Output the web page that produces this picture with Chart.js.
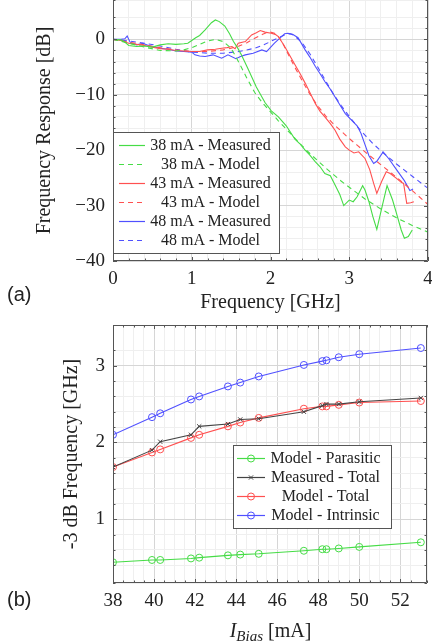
<!DOCTYPE html>
<html>
<head>
<meta charset="utf-8">
<script src="https://cdn.jsdelivr.net/npm/chart.js@4.4.0/dist/chart.umd.min.js"></script>
<style>
  body { margin: 0; background: #fff; }
  #wrap { position: relative; width: 432px; height: 642px; overflow: hidden; }
  canvas { position: absolute; left: 0; }
  #respChart { top: 0; }
  #bwChart { top: 320px; }
  .tag { position: absolute; left: 7px; font: 20px 'Liberation Sans', sans-serif; line-height: 20px; color: #222; }
  #xTitleB { position: absolute; left: 113px; width: 315px; top: 618px; text-align: center;
             font: 20px 'Liberation Serif', serif; line-height: 24px; color: #222; }
  #xTitleB sub { font-size: 15px; line-height: 0; vertical-align: -4px; }
</style>
</head>
<body>
<div id="wrap">
  <canvas id="respChart" width="432" height="320"></canvas>
  <canvas id="bwChart" width="432" height="322"></canvas>
  <div class="tag" style="top:284px">(a)</div>
  <div class="tag" style="top:589px">(b)</div>
  <div id="xTitleB"><i>I</i><sub><i>Bias</i></sub> [mA]</div>
</div>
<script>
// (a) frequency response [GHz] / [dB]
var freq38Meas = [0, 0.1, 0.15, 0.2, 0.3, 0.4, 0.5, 0.6, 0.7, 0.8, 0.9, 0.95, 1.0, 1.05, 1.1, 1.17, 1.25, 1.3, 1.35, 1.42, 1.48, 1.53, 1.58, 1.63, 1.72, 1.82, 1.93, 2.01, 2.1, 2.2, 2.31, 2.37, 2.44, 2.5, 2.57, 2.63, 2.69, 2.76, 2.82, 2.88, 2.93, 3.0, 3.05, 3.1, 3.17, 3.2, 3.25, 3.3, 3.35, 3.42, 3.48, 3.55, 3.6, 3.66, 3.7, 3.75, 3.8];
var db38Meas = [0, -0.1, -0.5, -1.1, -1.3, -1.2, -1.4, -1.0, -0.8, -0.9, -0.8, -0.7, -0.2, 0.3, 0.7, 1.7, 3.0, 3.5, 3.2, 2.4, 1.0, -0.4, -1.5, -2.8, -5.5, -8.6, -11.4, -12.9, -14.0, -15.6, -18.0, -18.8, -20.0, -20.9, -22.1, -23.0, -24.2, -24.6, -26.3, -28.0, -30.0, -29.0, -29.3, -28.4, -26.4, -27.2, -29.3, -32.0, -34.3, -30.0, -26.4, -29.0, -31.4, -34.4, -35.9, -35.6, -34.4];
var freq38Model = [0, 0.2, 0.4, 0.6, 0.8, 0.9, 1.0, 1.1, 1.2, 1.3, 1.4, 1.5, 1.6, 1.7, 1.8, 1.9, 2.0, 2.1, 2.2, 2.3, 2.4, 2.5, 2.6, 2.7, 2.8, 2.9, 3.0, 3.2, 3.4, 3.6, 3.8, 4.0];
var db38Model = [0, -0.7, -1.4, -2.0, -2.1, -1.9, -1.5, -0.9, -0.3, 0, -0.4, -1.6, -4.2, -7.0, -9.6, -11.5, -13.1, -14.7, -16.2, -17.7, -19.2, -20.6, -21.9, -23.2, -24.4, -25.6, -26.7, -28.8, -30.6, -32.2, -33.6, -34.8];
var freq43Meas = [0, 0.1, 0.2, 0.3, 0.4, 0.5, 0.6, 0.7, 0.8, 0.9, 1.0, 1.1, 1.2, 1.3, 1.38, 1.45, 1.51, 1.55, 1.59, 1.68, 1.76, 1.82, 1.87, 1.93, 2.01, 2.06, 2.1, 2.15, 2.2, 2.3, 2.38, 2.44, 2.5, 2.57, 2.63, 2.69, 2.76, 2.82, 2.88, 2.95, 3.0, 3.06, 3.12, 3.2, 3.26, 3.31, 3.35, 3.41, 3.47, 3.52, 3.6, 3.66, 3.69, 3.73, 3.78, 3.82];
var db43Meas = [0, -0.2, -0.7, -0.9, -1.1, -1.4, -1.7, -1.8, -2.0, -2.1, -2.2, -2.2, -1.9, -1.8, -1.6, -1.5, -1.3, -1.7, -0.7, -0.4, 0.8, 1.2, 1.6, 1.3, 1.1, 0.9, 0.5, -0.6, -1.8, -4.3, -6.3, -7.9, -9.6, -11.6, -13.0, -14.0, -15.2, -16.4, -18.0, -19.4, -20.0, -20.5, -20.3, -21.5, -23.5, -26.0, -27.8, -25.7, -23.9, -24.2, -25.1, -25.8, -26.0, -29.6, -29.5, -29.3];
var freq43Model = [0, 0.2, 0.4, 0.6, 0.8, 1.0, 1.2, 1.4, 1.5, 1.6, 1.7, 1.8, 1.9, 1.95, 2.0, 2.05, 2.1, 2.15, 2.2, 2.3, 2.4, 2.5, 2.6, 2.7, 2.8, 2.9, 3.0, 3.1, 3.2, 3.4, 3.6, 3.8, 4.0];
var db43Model = [0, -0.5, -1.0, -1.5, -1.9, -2.2, -2.2, -1.9, -1.6, -1.2, -0.6, 0.2, 0.9, 1.2, 1.3, 1.1, 0.5, -0.5, -2.0, -4.8, -7.4, -9.9, -12.0, -13.8, -15.3, -16.6, -17.9, -19.1, -20.3, -22.6, -24.9, -27.3, -29.8];
var freq48Meas = [0, 0.1, 0.15, 0.18, 0.22, 0.3, 0.38, 0.45, 0.5, 0.6, 0.7, 0.8, 0.9, 1.0, 1.04, 1.1, 1.17, 1.27, 1.38, 1.46, 1.56, 1.62, 1.68, 1.78, 1.89, 1.95, 2.05, 2.14, 2.18, 2.22, 2.28, 2.35, 2.44, 2.5, 2.57, 2.63, 2.69, 2.76, 2.82, 2.88, 2.95, 3.05, 3.1, 3.15, 3.2, 3.25, 3.31, 3.35, 3.43, 3.5, 3.6, 3.65, 3.7, 3.77, 3.81];
var db48Meas = [0, 0, 0.1, 0.6, -0.6, -1.0, -0.7, -1.1, -1.3, -1.6, -1.8, -2.1, -2.2, -2.3, -2.8, -3.0, -3.1, -2.8, -3.4, -2.8, -3.5, -3.1, -2.8, -2.5, -1.9, -2.2, -0.7, 0.5, 1.0, 1.1, 0.9, 0.3, -1.9, -3.2, -4.9, -6.2, -7.6, -9.0, -10.4, -11.8, -13.4, -14.9, -15.6, -17.0, -19.0, -21.0, -22.4, -22.0, -20.3, -21.5, -23.5, -24.5, -25.5, -27.3, -27.0];
var freq48Model = [0, 0.2, 0.4, 0.6, 0.8, 1.0, 1.2, 1.4, 1.6, 1.8, 1.9, 2.0, 2.1, 2.2, 2.25, 2.3, 2.4, 2.5, 2.6, 2.7, 2.8, 2.9, 3.0, 3.1, 3.2, 3.3, 3.4, 3.6, 3.8, 4.0];
var db48Model = [0, -0.3, -0.7, -1.2, -1.8, -2.3, -2.5, -2.5, -2.2, -1.6, -1.1, -0.4, 0.3, 0.9, 1.0, 0.7, -0.6, -2.6, -5.0, -7.5, -9.9, -12.0, -13.9, -15.7, -17.3, -18.8, -20.1, -22.5, -24.7, -26.9];
var respXLabels = [0, 1, 2, 3, 4];
var respYLabels = [0, -10, -20, -30, -40];

// (b) -3 dB frequency [GHz] against bias current [mA]
var iBias = [38, 39.9, 40.3, 41.8, 42.2, 43.6, 44.2, 45.1, 47.3, 48.2, 48.4, 49, 50, 53];
var f3dbParasitic = [0.44, 0.47, 0.47, 0.49, 0.50, 0.53, 0.54, 0.55, 0.59, 0.61, 0.61, 0.62, 0.64, 0.70];
var f3dbMeasTotal = [1.68, 1.90, 2.01, 2.10, 2.21, 2.24, 2.30, 2.31, 2.40, 2.48, 2.50, 2.50, 2.53, 2.58];
var f3dbModelTotal = [1.68, 1.87, 1.91, 2.06, 2.10, 2.21, 2.26, 2.32, 2.44, 2.47, 2.47, 2.49, 2.52, 2.54];
var f3dbIntrinsic = [2.10, 2.33, 2.38, 2.56, 2.60, 2.73, 2.78, 2.86, 3.01, 3.06, 3.07, 3.11, 3.15, 3.23];
var bwXLabels = [38, 40, 42, 44, 46, 48, 50, 52];
var bwYLabels = [1, 2, 3];

var GREEN = 'rgb(70,220,70)';
var RED = 'rgb(255,80,80)';
var BLUE = 'rgb(80,80,255)';
var GREY = '#444';

Chart.defaults.font.family = "'Liberation Serif', serif";
Chart.defaults.color = '#222';

function pts(xs, ys) {
    return xs.map(function(x, i) { return {x: x, y: ys[i]}; });
}
function hasLabel(list, v) {
    return list.some(function(l) { return Math.abs(l - v) < 1e-6; });
}
function fmtNum(v) {
    return v < 0 ? '\u2212' + Math.abs(v) : String(v);
}

// frame with small inward tick marks, like pgfplots
var framePlugin = {
    id: 'frame',
    afterDatasetsDraw: function(chart, args, opts) {
        var ctx = chart.ctx, a = chart.chartArea, sx = chart.scales.x, sy = chart.scales.y;
        ctx.save();
        ctx.strokeStyle = '#555';
        ctx.lineWidth = 1;
        ctx.beginPath();
        sx.ticks.forEach(function(t) {
            var p = Math.round(sx.getPixelForValue(t.value)) + 0.5;
            var len = t.label ? 4 : 2.5;
            ctx.moveTo(p, a.bottom); ctx.lineTo(p, a.bottom - len);
            if (opts.top) { ctx.moveTo(p, a.top); ctx.lineTo(p, a.top + len); }
        });
        sy.ticks.forEach(function(t) {
            var p = Math.round(sy.getPixelForValue(t.value)) + 0.5;
            var len = t.label ? 4 : 2.5;
            ctx.moveTo(a.left, p); ctx.lineTo(a.left + len, p);
            ctx.moveTo(a.right, p); ctx.lineTo(a.right - len, p);
        });
        ctx.stroke();
        var l = Math.round(a.left) + 0.5, r = Math.round(a.right) - 0.5;
        var t0 = Math.round(a.top) + 0.5, b = Math.round(a.bottom) - 0.5;
        ctx.beginPath();
        if (opts.top) {
            ctx.rect(l, t0, r - l, b - t0);
        } else {
            ctx.moveTo(l, a.top); ctx.lineTo(l, b); ctx.lineTo(r, b); ctx.lineTo(r, a.top);
        }
        ctx.stroke();
        ctx.restore();
    }
};

// boxed legend placed inside the plot
var boxLegend = {
    id: 'boxLegend',
    afterDraw: function(chart, args, o) {
        var ctx = chart.ctx;
        ctx.save();
        ctx.fillStyle = '#fff';
        ctx.fillRect(o.left, o.top, o.width, o.height);
        ctx.strokeStyle = '#555';
        ctx.lineWidth = 1;
        ctx.strokeRect(o.left + 0.5, o.top + 0.5, o.width, o.height);
        ctx.font = o.font;
        ctx.textAlign = 'center';
        ctx.textBaseline = 'middle';
        chart.data.datasets.forEach(function(ds, i) {
            var y = Math.round(o.firstRow + i * o.rowHeight) + 0.5;
            var dash = ds.borderDash && ds.borderDash.length ? ds.borderDash : [];
            ctx.save();
            ctx.setLineDash(dash);
            ctx.lineWidth = 1.2;
            ctx.strokeStyle = ds.borderColor;
            ctx.beginPath();
            ctx.moveTo(o.lineFrom, y);
            ctx.lineTo(o.lineTo, y);
            ctx.stroke();
            ctx.restore();
            if (ds.pointRadius > 0) {
                ctx.strokeStyle = ds.borderColor;
                ctx.lineWidth = 1;
                ctx.fillStyle = 'rgba(255,255,255,0)';
                Chart.helpers.drawPoint(ctx, {pointStyle: ds.pointStyle, radius: ds.pointRadius,
                    borderWidth: ds.pointBorderWidth, rotation: 0}, (o.lineFrom + o.lineTo) / 2, y);
            }
            ctx.fillStyle = '#222';
            ctx.fillText(ds.label, o.textX, y);
        });
        ctx.restore();
    }
};

function axisX(min, max, step, labels, title, titlePad) {
    return {
        type: 'linear', min: min, max: max, bounds: 'ticks',
        border: {display: false},
        grid: {
            drawTicks: false,
            color: function(c) { return c.tick && hasLabel(labels, c.tick.value) ? '#d6d6d6' : '#efefef'; }
        },
        ticks: {
            stepSize: step, autoSkip: false, maxRotation: 0, includeBounds: true, padding: 7,
            font: {size: 19},
            callback: function(v) { return hasLabel(labels, v) ? fmtNum(v) : ''; }
        },
        title: {display: !!title, text: title, font: {size: 20}, padding: {top: 0, bottom: titlePad}},
        afterFit: function(s) { s.height = 59; s.paddingLeft = 0; s.paddingRight = 0; }
    };
}
function axisY(min, max, step, labels, title, titlePad) {
    return {
        type: 'linear', min: min, max: max, bounds: 'ticks',
        border: {display: false},
        grid: {
            drawTicks: false,
            color: function(c) { return c.tick && hasLabel(labels, c.tick.value) ? '#d6d6d6' : '#efefef'; }
        },
        ticks: {
            stepSize: step, autoSkip: false, includeBounds: true, padding: 8,
            font: {size: 19},
            callback: function(v) { return hasLabel(labels, v) ? fmtNum(v) : ''; }
        },
        title: {display: true, text: title, font: {size: 20}, padding: {top: titlePad, bottom: 0}},
        afterFit: function(s) { s.width = 113; s.paddingTop = 0; s.paddingBottom = 0; }
    };
}

function respLine(label, xs, ys, color, dashed) {
    return {
        label: label, data: pts(xs, ys), borderColor: color, borderWidth: 1.1,
        borderDash: dashed ? [5, 4] : [], pointRadius: 0, tension: 0, fill: false
    };
}
function bwLine(label, ys, color, style) {
    return {
        label: label, data: pts(iBias, ys), borderColor: color, borderWidth: 1.1,
        pointStyle: style, pointRadius: style === 'crossRot' ? 3 : 3.5, pointBorderWidth: 1,
        pointBorderColor: color, pointBackgroundColor: 'rgba(255,255,255,0)', tension: 0, fill: false
    };
}

function renderResponse() {
    new Chart(document.getElementById('respChart'), {
        type: 'line',
        data: {
            datasets: [
                respLine('38 mA - Measured', freq38Meas, db38Meas, GREEN, false),
                respLine('38 mA - Model', freq38Model, db38Model, GREEN, true),
                respLine('43 mA - Measured', freq43Meas, db43Meas, RED, false),
                respLine('43 mA - Model', freq43Model, db43Model, RED, true),
                respLine('48 mA - Measured', freq48Meas, db48Meas, BLUE, false),
                respLine('48 mA - Model', freq48Model, db48Model, BLUE, true)
            ]
        },
        options: {
            responsive: false, animation: false, events: [],
            layout: {padding: {left: 0, right: 4, top: 0, bottom: 0}},
            scales: {
                x: axisX(0, 4, 0.2, respXLabels, 'Frequency [GHz]', 5),
                y: axisY(-40, 7.1, 2, respYLabels, 'Frequency Response [dB]', 33)
            },
            plugins: {
                legend: {display: false},
                tooltip: {enabled: false},
                frame: {top: false},
                boxLegend: {left: 113, top: 132, width: 166, height: 121, firstRow: 145, rowHeight: 19,
                            lineFrom: 119, lineTo: 145, textX: 210.5, font: "16px 'Liberation Serif'"}
            }
        },
        plugins: [framePlugin, boxLegend]
    });
}

function renderBandwidth() {
    new Chart(document.getElementById('bwChart'), {
        type: 'line',
        data: {
            datasets: [
                bwLine('Model - Parasitic', f3dbParasitic, GREEN, 'circle'),
                bwLine('Measured - Total', f3dbMeasTotal, GREY, 'crossRot'),
                bwLine('Model - Total', f3dbModelTotal, RED, 'circle'),
                bwLine('Model - Intrinsic', f3dbIntrinsic, BLUE, 'circle')
            ]
        },
        options: {
            responsive: false, animation: false, events: [],
            layout: {padding: {left: 0, right: 4, top: 2, bottom: 0}},
            scales: {
                x: axisX(38, 53.3, 0.5, bwXLabels, '', 0),
                y: axisY(0.17, 3.53, 0.2, bwYLabels, '-3 dB Frequency [GHz]', 60)
            },
            plugins: {
                legend: {display: false},
                tooltip: {enabled: false},
                frame: {top: true},
                boxLegend: {left: 233, top: 125, width: 158, height: 83, firstRow: 137.5, rowHeight: 19,
                            lineFrom: 237, lineTo: 265, textX: 325.5, font: "16px 'Liberation Serif'"}
            }
        },
        plugins: [framePlugin, boxLegend]
    });
}

window.addEventListener('load', function() {
    renderResponse();
    renderBandwidth();
});
</script>
</body>
</html>
